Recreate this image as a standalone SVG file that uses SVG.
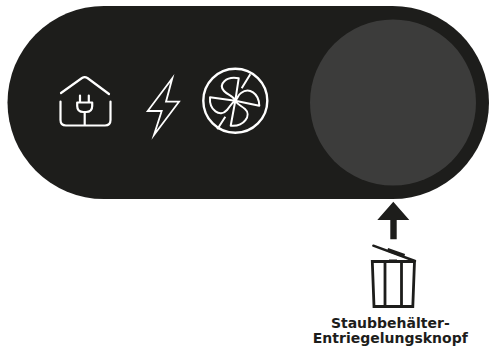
<svg xmlns="http://www.w3.org/2000/svg" width="489" height="348" viewBox="0 0 489 348">
<style>
.i{fill:none;stroke:#fff;stroke-width:2.200;stroke-linecap:round;stroke-linejoin:round}
.b{fill:none;stroke:#fff;stroke-width:1.800;stroke-linejoin:miter;stroke-miterlimit:8}
.f{fill:none;stroke:#fff;stroke-width:2;stroke-linejoin:round}
.k{fill:none;stroke:#1d1d1b;stroke-width:2.800;stroke-linejoin:miter}
.t{font-family:"DejaVu Sans","Liberation Sans",sans-serif;font-weight:700;font-size:14px;fill:#1d1d1b;text-anchor:middle}
</style>
<rect width="489" height="348" fill="#fff"/>
<g id="panel"><rect x="7.500" y="6" width="481.500" height="193" rx="96.500" ry="96.500" fill="#1d1d1b"/></g>
<g id="knob"><circle cx="393" cy="102.500" r="83" fill="#3c3c3b"/></g>
<g id="house-plug">
<path class="i" d="M61 93 L82 78 Q84.700 76.300 87.400 78 L109 94"/>
<path class="i" d="M60.500 101.500 V120 Q60.500 125.500 66 125.500 H105 Q110.500 125.500 110.500 120 V101.500"/>
<path class="i" d="M80 95.500 V102.500 M88.800 95.500 V102.500 M77.200 102.500 H92.200 V106 Q92.200 112 86 112 H83.400 Q77.200 112 77.200 106 Z M84.700 112 V125"/>
</g>
<g id="bolt"><path class="b" d="M172.300 78.300 L147.700 111 H161.700 L154 135 L179 101.700 H166 Z"/></g>
<g id="fan">
<circle cx="235.300" cy="100.700" r="32" fill="none" stroke="#fff" stroke-width="2.400"/>
<path class="f" d="M250.300 74.300 L241.700 88.300 M225.300 116.700 L217.300 129.300"/>
<path class="f" d="M235.300 100.700 L238.700 78.300 C226 76 218 84 224 91 C228 95.500 233 95 235.300 100.700 Z"/>
<path class="f" d="M235.300 100.700 L259.300 105.700 C259 93 249 87 241 93 C237.500 95.500 238 98 235.300 100.700 Z"/>
<path class="f" d="M235.300 100.700 L230.700 125.700 C244 127 252 115 245 109 C241 105.500 238 105 235.300 100.700 Z"/>
<path class="f" d="M235.300 100.700 L210 97.300 C209 110 220 118 227 110 C230 106.500 231 103.500 235.300 100.700 Z"/>
</g>
<g id="connectors"><path d="M393.300 201.700 L409.300 220 H396.700 V239.300 H390.300 V220 H377.300 Z" fill="#1d1d1b"/></g>
<g id="bin">
<path class="k" d="M372.300 261.500 H414.500 L412.800 306.500 H374 Z M385 261.500 V306.500 M401.500 261.500 V306.500"/>
<path d="M373.300 245.700 L415 261" fill="none" stroke="#1d1d1b" stroke-width="2.400" stroke-linecap="round"/>
<path d="M387.500 249.800 L404.500 255.800" fill="none" stroke="#1d1d1b" stroke-width="3.600"/>
<path d="M389 260.700 H397" fill="none" stroke="#1d1d1b" stroke-width="2.400"/>
</g>
<g id="label">
<text class="t" x="390.300" y="328">Staubbehälter-</text>
<text class="t" x="390.300" y="343">Entriegelungsknopf</text>
</g>
</svg>
